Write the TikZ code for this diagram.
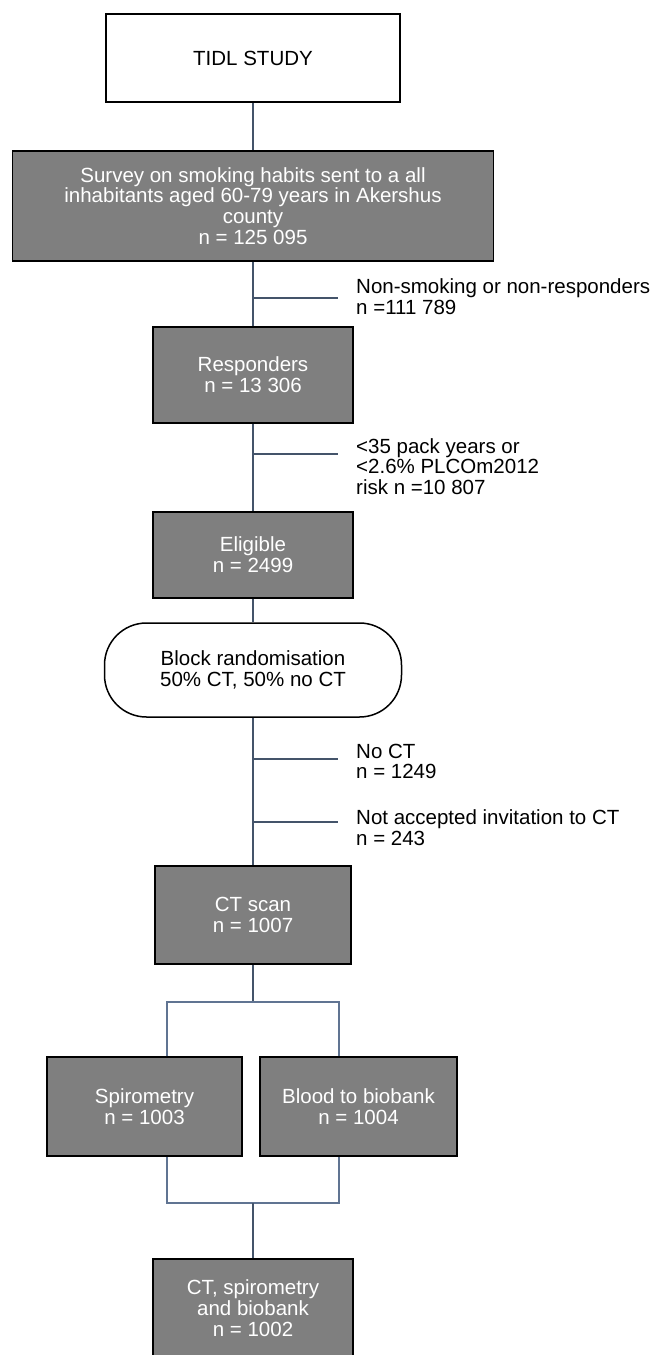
\documentclass[tikz,border=0pt]{standalone}
\usepackage{fontspec}
\setmainfont{Liberation Sans}
\definecolor{boxgrey}{RGB}{127,127,127}
\definecolor{linkblue}{RGB}{68,84,106}
\definecolor{splitblue}{RGB}{96,116,146}
\tikzset{
	box/.style={draw=black, line width=1.5pt, rectangle, inner sep=0pt, align=center, font=\fontsize{20.5}{20.7}\selectfont},
	greybox/.style={box, fill=boxgrey, text=white},
	note/.style={anchor=west, inner sep=0pt, align=left, font=\fontsize{20.5}{20.7}\selectfont},
	link/.style={draw=linkblue, line width=1.8pt},
	splitlink/.style={draw=splitblue, line width=1.3pt}
}
\begin{document}
\begin{tikzpicture}[x=1pt, y=-1pt]
		\useasboundingbox (0, 0) rectangle (655, 1355);

		\node[box, fill=white, minimum width=294, minimum height=88] (tidl) at (253, 58) {TIDL STUDY};
		\node[greybox, minimum width=481, minimum height=110] (survey) at (253, 206) {Survey on smoking habits sent to a all\\inhabitants aged 60-79 years in Akershus\\county\\n = 125 095};
		\node[greybox, minimum width=200, minimum height=96] (resp) at (253, 375) {Responders\\n = 13 306};
		\node[greybox, minimum width=200, minimum height=86] (elig) at (253, 555) {Eligible\\n = 2499};
		\node[box, fill=white, rounded corners=42pt, minimum width=297, minimum height=94] (block) at (253, 670) {Block randomisation\\50\% CT, 50\% no CT};
		\node[greybox, minimum width=196, minimum height=98] (ct) at (253, 915) {CT scan\\n = 1007};
		\node[greybox, minimum width=195, minimum height=99] (spiro) at (144.5, 1106.5) {Spirometry\\n = 1003};
		\node[greybox, minimum width=197, minimum height=99] (blood) at (358.5, 1106.5) {Blood to biobank\\n = 1004};
		\node[greybox, minimum width=200, minimum height=98] (final) at (253, 1308) {CT, spirometry\\and biobank\\n = 1002};

		\node[note] (ex1) at (356, 296.5) {Non-smoking or non-responders\\n =111 789};
		\node[note] (ex2) at (356, 466.5) {<35 pack years or\\<2.6\% PLCOm2012\\risk n =10 807};
		\node[note] (ex3) at (356, 761.5) {No CT\\n = 1249};
		\node[note] (ex4) at (356, 828) {Not accepted invitation to CT\\n = 243};

		\coordinate (br1) at (338, 298);
		\coordinate (br2) at (338, 454);
		\coordinate (br3) at (338, 759);
		\coordinate (br4) at (338, 822);
		\coordinate (splitL) at (167, 1002);
		\coordinate (splitR) at (339, 1002);
		\coordinate (mergeL) at (167, 1203);
		\coordinate (mergeR) at (339, 1203);

		\draw[link] (tidl) -- (survey);
		\draw[link] (survey) -- (resp);
		\draw[link] (resp) -- (elig);
		\draw[link] (elig) -- (block);
		\draw[link] (block) -- (ct);
		\foreach \b in {br1, br2, br3, br4}
		\draw[link] (\b -| ct) -- (\b);

		\draw[link] (ct) -- (ct |- splitL);
		\draw[splitlink] (spiro.north -| splitL) -- (splitL) -- (splitR) -- (blood.north -| splitR);
		\draw[splitlink] (spiro.south -| mergeL) -- (mergeL) -- (mergeR) -- (blood.south -| mergeR);
		\draw[link] (final) -- (final |- mergeL);

	\end{tikzpicture}
\end{document}
